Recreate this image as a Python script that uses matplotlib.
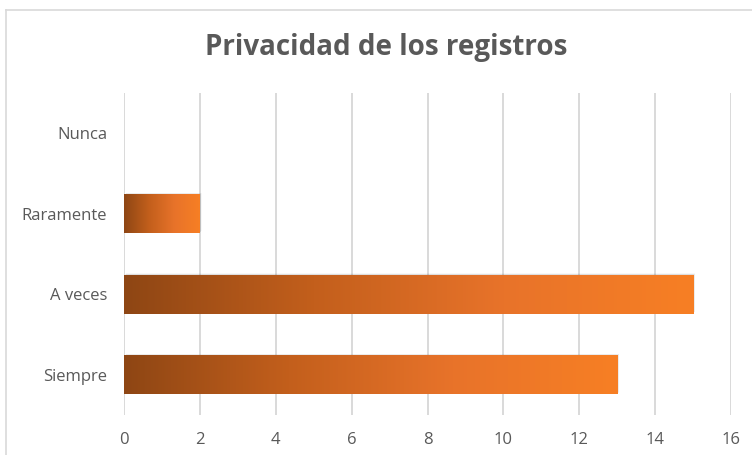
import matplotlib
matplotlib.use("Agg")
import matplotlib.pyplot as plt
import numpy as np
from matplotlib.colors import LinearSegmentedColormap
from matplotlib.patches import Rectangle
from matplotlib.lines import Line2D

categories = ["Siempre", "A veces", "Raramente", "Nunca"]
values = [13, 15, 2, 0]
xticks = [0, 2, 4, 6, 8, 10, 12, 14, 16]
title = "Privacidad de los registros"

fig = plt.figure(figsize=(7.52, 4.55), dpi=100)
ax = fig.add_axes([124/752, 1-415/455, (731-124)/752, (415-93)/455])

cmap = LinearSegmentedColormap.from_list("g", ["#8E4614", "#C35F1C", "#E8732A", "#F77F24"])
grad = np.linspace(0, 1, 256).reshape(1, -1)

bars = ax.barh(categories, values, height=0.48, color="none", zorder=3)
for b in bars:
    x0, y0, w, h = b.get_x(), b.get_y(), b.get_width(), b.get_height()
    if w <= 0:
        continue
    # soft shadow
    for i, a in enumerate([0.10, 0.08, 0.06, 0.04]):
        d = 0.02 + i * 0.025
        ax.add_patch(Rectangle((x0 + d * 0.6, y0 + d * 0.25), w, h,
                               facecolor="#404040", alpha=a, edgecolor="none", zorder=2))
    ax.imshow(grad, extent=[x0, x0 + w, y0, y0 + h], aspect="auto",
              cmap=cmap, zorder=3, interpolation="bicubic")

ax.set_xlim(0, 16)
ax.set_ylim(-0.5, 3.5)
ax.set_xticks(xticks)
ax.set_xticklabels([str(t) for t in xticks])
ax.grid(axis="x", color="#D9D9D9", linewidth=1.4, zorder=0)
ax.set_axisbelow(True)
for s in ax.spines.values():
    s.set_visible(False)
ax.tick_params(axis="both", length=0, colors="#595959", labelsize=12)
ax.tick_params(axis="y", pad=12)
ax.tick_params(axis="x", pad=12)
for lab in ax.get_xticklabels() + ax.get_yticklabels():
    lab.set_fontfamily("Open Sans")
    lab.set_color("#595959")

fig.text(386/752, 1-48/455, title, ha="center", va="center", fontsize=20,
         fontweight="bold", color="#595959", family="Open Sans")

# chart border
fig.add_artist(Line2D([6/752, 6/752], [0, 1-10/455], color="#D9D9D9", linewidth=1.2))
fig.add_artist(Line2D([6/752, 1], [1-10/455, 1-10/455], color="#D9D9D9", linewidth=1.2))

fig.savefig("out.png", dpi=100)
